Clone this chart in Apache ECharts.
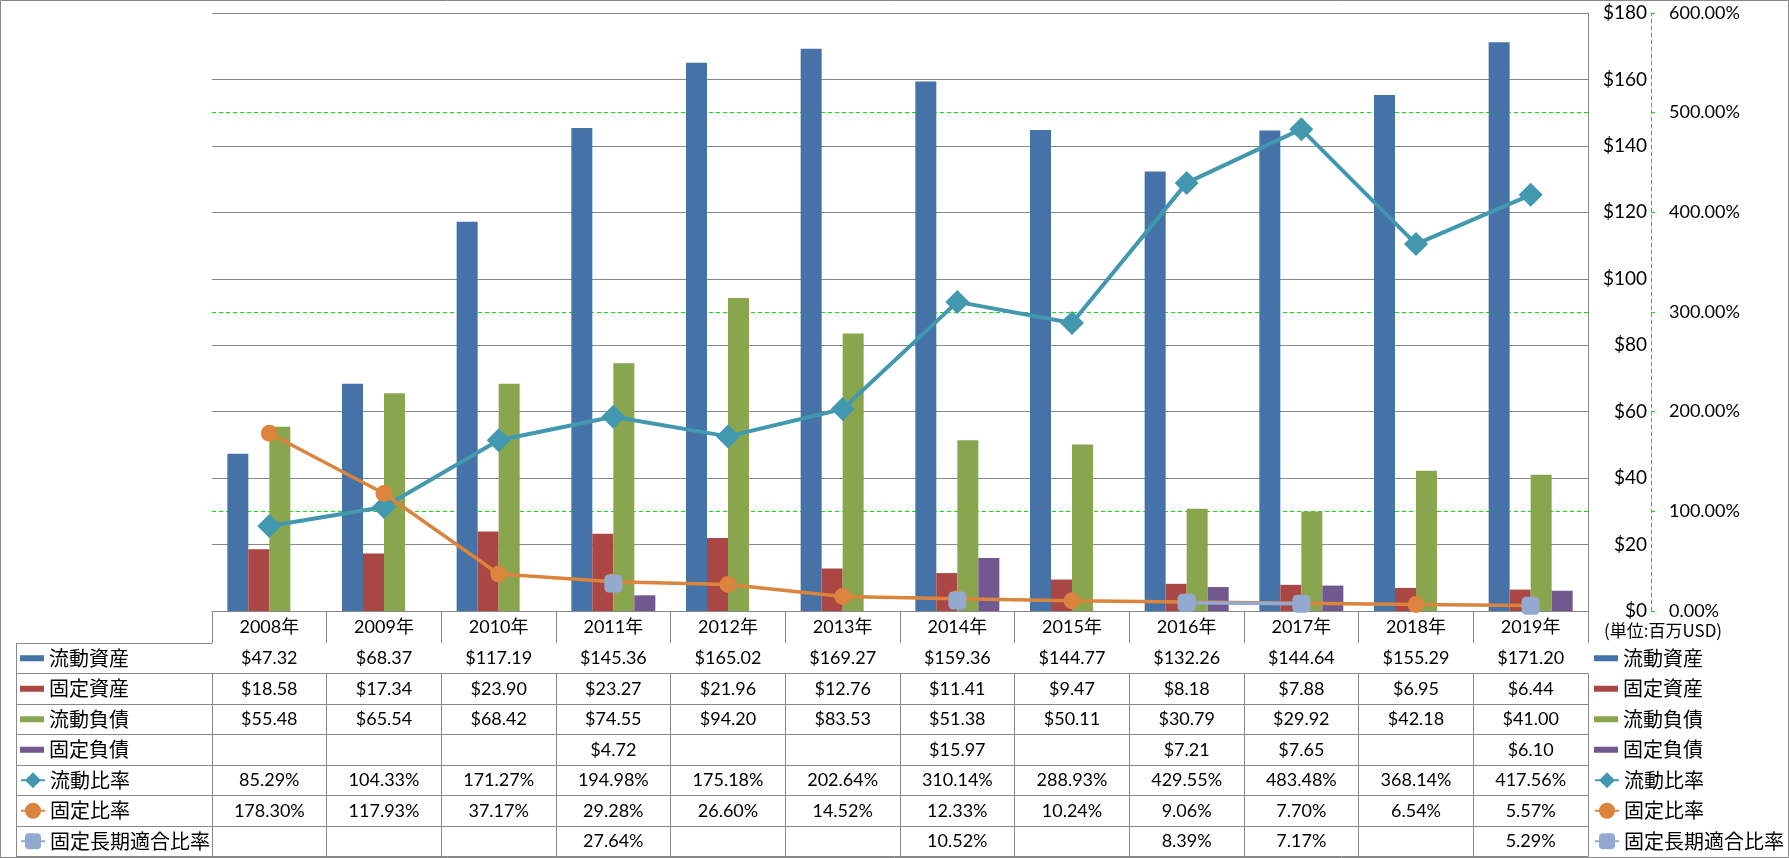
<!DOCTYPE html>
<html><head><meta charset="utf-8">
<script src="https://cdn.jsdelivr.net/npm/echarts@6/dist/echarts.min.js"></script>
<style>html,body{margin:0;padding:0;background:#fff}#c{width:1789px;height:858px}</style>
</head><body><div id="c"></div><script>
// ---------------- data ----------------
const years = ['2008年','2009年','2010年','2011年','2012年','2013年','2014年','2015年','2016年','2017年','2018年','2019年'];
const currentAssets = [47.32, 68.37, 117.19, 145.36, 165.02, 169.27, 159.36, 144.77, 132.26, 144.64, 155.29, 171.20];
const fixedAssets   = [18.58, 17.34, 23.90, 23.27, 21.96, 12.76, 11.41, 9.47, 8.18, 7.88, 6.95, 6.44];
const currentLiab   = [55.48, 65.54, 68.42, 74.55, 94.20, 83.53, 51.38, 50.11, 30.79, 29.92, 42.18, 41.00];
const fixedLiab     = [null, null, null, 4.72, null, null, 15.97, null, 7.21, 7.65, null, 6.10];
const currentRatio  = [85.29, 104.33, 171.27, 194.98, 175.18, 202.64, 310.14, 288.93, 429.55, 483.48, 368.14, 417.56];
const fixedRatio    = [178.30, 117.93, 37.17, 29.28, 26.60, 14.52, 12.33, 10.24, 9.06, 7.70, 6.54, 5.57];
const fixedLongRatio= [null, null, null, 27.64, null, null, 10.52, null, 8.39, 7.17, null, 5.29];
const seriesNames = ['流動資産','固定資産','流動負債','固定負債','流動比率','固定比率','固定長期適合比率'];
const leftAxis = {min: 0, max: 180, interval: 20};
const rightAxis = {min: 0, max: 600, interval: 100};
const unitLabel = '(単位:百万USD)';

// ---------------- style / layout ----------------
const W = 1789, H = 858;
const GL = 212, GR = 1588, GT = 13, GB = 611;
const HEADER_H = 32, ROW_H = 30.5;
const GRID_C = '#888888';
const GREEN = '#11dd11';
const NUMF = 'Lato, "Noto Sans CJK JP", sans-serif';
const CJKF = '"Noto Sans CJK JP", sans-serif';
const colors = ['#4572A7','#AA4643','#89A54E','#71588F','#4198AF','#DB843D','#93A9CF'];

const money = v => '$' + v.toFixed(2);
const pct = v => v.toFixed(2) + '%';
const rows = [
  {vals: currentAssets, fmt: money},
  {vals: fixedAssets, fmt: money},
  {vals: currentLiab, fmt: money},
  {vals: fixedLiab, fmt: money},
  {vals: currentRatio, fmt: pct},
  {vals: fixedRatio, fmt: pct},
  {vals: fixedLongRatio, fmt: pct}
];

const labelBase = {interval: 0, verticalAlign: 'middle', fontSize: 18, color: '#000', fontFamily: NUMF};
const xAxes = [{
  type: 'category', data: years, position: 'bottom', offset: 0, z: 0,
  axisLine: {show: true, lineStyle: {color: GRID_C, width: 1}},
  axisTick: {show: true, interval: 0, length: HEADER_H, lineStyle: {color: GRID_C, width: 1}},
  axisLabel: Object.assign({margin: HEADER_H / 2}, labelBase),
  splitLine: {show: false}
}];
rows.forEach((r, i) => {
  xAxes.push({
    type: 'category', data: years, position: 'bottom', offset: HEADER_H + i * ROW_H, z: 0,
    axisLine: {show: true, lineStyle: {color: GRID_C, width: 1}},
    axisTick: {show: true, interval: 0, length: ROW_H, lineStyle: {color: GRID_C, width: 1}},
    axisLabel: Object.assign({margin: ROW_H / 2, formatter: (v, idx) => r.vals[idx] == null ? '' : r.fmt(r.vals[idx])}, labelBase),
    splitLine: {show: false}
  });
});
xAxes.push({
  type: 'category', data: years, position: 'bottom', offset: HEADER_H + rows.length * ROW_H, z: 0,
  axisLine: {show: true, lineStyle: {color: GRID_C, width: 1}},
  axisTick: {show: false}, axisLabel: {show: false}, splitLine: {show: false}
});

function sp(p) { const d = Math.round(p * 2); return (d + 1) % 2 === 0 ? d / 2 : (d + 1) / 2; }
const graphic = [{type: 'rect', silent: true, shape: {x: 0.5, y: 0.5, width: W - 1, height: H - 1}, style: {fill: 'none', stroke: GRID_C, lineWidth: 1}}];
const tableTop = GB + HEADER_H;
for (let i = 0; i <= rows.length; i++) {
  const y = sp(tableTop + i * ROW_H);
  graphic.push({type: 'line', silent: true, shape: {x1: 16, y1: y, x2: GL, y2: y}, style: {stroke: GRID_C, lineWidth: 1}});
}
graphic.push({type: 'line', silent: true, shape: {x1: 16.5, y1: sp(tableTop), x2: 16.5, y2: sp(tableTop + rows.length * ROW_H)}, style: {stroke: GRID_C, lineWidth: 1}});

const barNames = seriesNames.slice(0, 4), lineNames = seriesNames.slice(4);
const legTxt = {fontSize: 20, lineHeight: 20, color: '#000', fontFamily: CJKF};
function legend(names, left, top, ih, icon) {
  const o = {orient: 'vertical', left: left, top: top, padding: 0, itemWidth: 24, itemHeight: ih,
    itemGap: ROW_H - 20, selectedMode: false, textStyle: legTxt, data: names};
  if (icon) o.icon = icon;
  return o;
}
const barTop = tableTop + ROW_H / 2 - 10;
const lineTop = tableTop + 4 * ROW_H + ROW_H / 2 - 10;

const bar = (name, data, i) => ({name, type: 'bar', data, xAxisIndex: 0, yAxisIndex: 0,
  barWidth: 21, barGap: '0%', itemStyle: {color: colors[i]}});
const line = (name, data, i, sym, size, lw) => ({name, type: 'line', data, xAxisIndex: 0, yAxisIndex: 1,
  symbol: sym, symbolSize: size, showSymbol: true, connectNulls: false,
  lineStyle: {color: colors[i], width: lw}, itemStyle: {color: colors[i]}});

const option = {
  animation: false,
  color: colors,
  textStyle: {fontFamily: NUMF},
  title: {text: unitLabel, left: 1604, top: 622, padding: 0,
    textStyle: {fontSize: 17, fontWeight: 'normal', color: '#000', fontFamily: CJKF}},
  grid: {left: GL, right: W - GR, top: GT, bottom: H - GB, containLabel: false},
  legend: [
    legend(barNames, 20, barTop, 6, 'rect'),
    legend(lineNames, 20, lineTop, 20),
    legend(barNames, 1594, barTop, 6, 'rect'),
    legend(lineNames, 1594, lineTop, 20)
  ],
  xAxis: xAxes,
  yAxis: [{
    type: 'value', position: 'right', min: leftAxis.min, max: leftAxis.max, interval: leftAxis.interval, z: 1,
    axisLine: {show: true, lineStyle: {color: GRID_C, width: 1}},
    axisTick: {show: false},
    axisLabel: {margin: 59, align: 'right', fontSize: 19, color: '#000', fontFamily: NUMF, formatter: v => '$' + v},
    splitLine: {show: true, lineStyle: {color: GRID_C, width: 1}}
  }, {
    type: 'value', position: 'right', offset: 63, min: rightAxis.min, max: rightAxis.max, interval: rightAxis.interval, z: 0,
    axisLine: {show: true, lineStyle: {color: GREEN, width: 1, type: [4, 3]}},
    axisTick: {show: true, length: 4, lineStyle: {color: GREEN, width: 1}},
    axisLabel: {margin: 18, fontSize: 18, color: '#000', fontFamily: NUMF, formatter: v => v.toFixed(2) + '%'},
    splitLine: {show: true, lineStyle: {color: GREEN, width: 1, type: [4, 3]}}
  }],
  graphic: graphic,
  series: [
    bar(seriesNames[0], currentAssets, 0),
    bar(seriesNames[1], fixedAssets, 1),
    bar(seriesNames[2], currentLiab, 2),
    bar(seriesNames[3], fixedLiab, 3),
    line(seriesNames[4], currentRatio, 4, 'diamond', 24, 4),
    line(seriesNames[5], fixedRatio, 5, 'circle', 17, 3.5),
    line(seriesNames[6], fixedLongRatio, 6, 'roundRect', 18, 3.5)
  ]
};
const chart = echarts.init(document.getElementById('c'), null, {renderer: 'canvas'});
chart.setOption(option);
</script></body></html>
